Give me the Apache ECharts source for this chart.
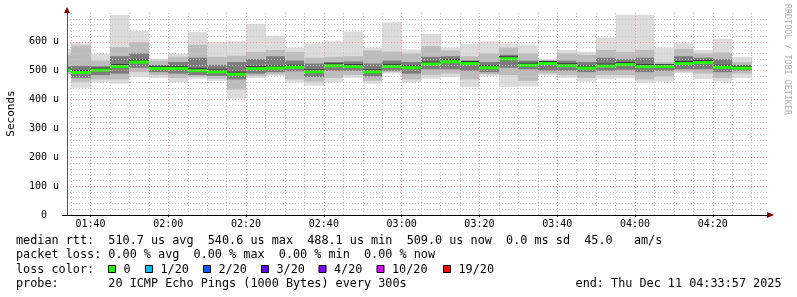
<!DOCTYPE html>
<html><head><meta charset="utf-8">
<script src="https://cdn.jsdelivr.net/npm/echarts@6/dist/echarts.min.js"></script>
<style>html,body{margin:0;padding:0;background:#fff}#c{width:797px;height:297px}</style>
</head><body><div id="c"></div>
<script>
// ---- data (5-minute slots, 20 pings each; values in microseconds) ----
const slots = ['01:30','01:35','01:40','01:45','01:50','01:55','02:00','02:05','02:10','02:15','02:20','02:25',
  '02:30','02:35','02:40','02:45','02:50','02:55','03:00','03:05','03:10','03:15','03:20','03:25',
  '03:30','03:35','03:40','03:45','03:50','03:55','04:00','04:05','04:10','04:15','04:20','04:25'];
const slotLength = 5; // minutes
const pingMin = [485,441,460,455,478,475,460,472,465,403,475,482,459,448,460,475,455,490,460,472,478,443,482,443,445,484,475,462,472,474,457,462,492,471,462,475];
const pingLo2 = [490,462,470,470,495,485,475,478,472,435,482,487,470,462,475,485,465,495,470,485,490,470,488,485,465,490,485,475,485,485,470,480,497,490,475,490];
const pingLo3 = [496,475,485,490,510,495,490,485,482,470,490,495,498,478,500,500,480,500,490,505,505,500,495,510,505,500,500,495,500,503,495,500,505,505,495,500];
const median  = [502,494,502,514,530,508,508,500,496,488,507,509,512,496,517,514,496,515,510,523,531,525,510,541,519,525,517,509,516,521,514,514,525,528,512,509];
const pingHi3 = [515,517,515,550,560,520,530,545,520,530,540,550,535,525,530,532,525,535,530,548,550,535,530,555,535,530,535,530,545,540,545,520,550,545,540,520];
const pingHi2 = [555,587,535,582,598,535,548,590,548,552,565,572,565,545,548,550,570,566,560,585,570,550,560,580,560,537,560,555,572,565,572,530,575,560,563,530];
const pingMax = [576,598,558,693,638,542,558,634,600,602,662,621,580,595,602,636,580,668,574,628,580,593,602,594,590,541,572,566,615,694,694,580,597,572,610,548];

const yTickValues = [0,100,200,300,400,500,600];
const xTickLabels = ['01:40','02:00','02:20','02:40','03:00','03:20','03:40','04:00','04:20'];
const viewStart = '01:33:57', viewEnd = '04:33:57';

const lossLabels = ['0','1/20','2/20','3/20','4/20','10/20','19/20'];
const lossColors = ['#26ff00','#00b8ff','#0059ff','#5e00ff','#7e00ff','#dd00ff','#ff0000'];

const line1 = 'median rtt:  510.7 us avg  540.6 us max  488.1 us min  509.0 us now  0.0 ms sd  45.0   am/s';
const line2 = 'packet loss: 0.00 % avg  0.00 % max  0.00 % min  0.00 % now';
const line3 = 'loss color:';
const line4 = 'probe:       20 ICMP Echo Pings (1000 Bytes) every 300s';
const endText = 'end: Thu Dec 11 04:33:57 2025';

// ---- helpers ----
function toMin(s){ const p = s.split(':').map(Number); return p[0]*60 + p[1] + (p[2]||0)/60; }
function fmt(m){ m = Math.round(m); const h = Math.floor(m/60), mm = m%60; return (h<10?'0':'')+h+':'+(mm<10?'0':'')+mm; }

const xMin = toMin(viewStart), xMax = toMin(viewEnd);
const majorX = xTickLabels.map(toMin);
const minorX = [];
for (let t = Math.ceil(xMin/5)*5; t < xMax; t += 5) if (t % 20 !== 0) minorX.push(t);

const data = slots.map((s,i) => {
  const t = toMin(s);
  return [t, t + slotLength, pingMin[i], pingLo2[i], pingLo3[i], median[i], pingHi3[i], pingHi2[i], pingMax[i]];
});

const MONO = '"DejaVu Sans Mono", monospace';
const bands = [[2,8,'#dcdcdc'],[3,7,'#bcbcbc'],[4,6,'#7c7c7c']];

function renderSmoke(params, api){
  const cs = params.coordSys;
  const t0 = api.value(0), t1 = api.value(1);
  let x0 = Math.round(api.coord([t0,0])[0]), x1 = Math.round(api.coord([t1,0])[0]);
  x0 = Math.max(x0, cs.x); x1 = Math.min(x1, cs.x + cs.width);
  if (x1 <= x0) return null;
  const Y = v => api.coord([t0, v])[1];
  const children = bands.map(b => {
    const yt = Y(api.value(b[1])), yb = Y(api.value(b[0]));
    return {type:'rect', shape:{x:x0, y:yt, width:x1-x0, height:yb-yt}, style:{fill:b[2]}};
  });
  const ym = Y(api.value(5));
  children.push({type:'rect', shape:{x:x0, y:ym-2.5, width:x1-x0, height:1}, style:{fill:'#303030'}});
  children.push({type:'rect', shape:{x:x0, y:ym-1.5, width:x1-x0, height:3}, style:{fill:lossColors[0]}});
  return {type:'group', children};
}

const gridRed = {color:'#e6a0a0', width:1, type:[1,2]};
const gridGray = {color:'#c8c8c8', width:1, type:[1,2]};

const graphics = [
  {type:'text', x:11, y:113.5, rotation:Math.PI/2, style:{text:'Seconds', font:'11px '+MONO, fill:'#000', align:'center', verticalAlign:'middle'}},
  {type:'text', x:787, y:59.5, rotation:-Math.PI/2, style:{text:'RRDTOOL / TOBI OETIKER', font:'8.4px '+MONO, fill:'#b0b0b0', align:'center', verticalAlign:'middle'}},
  {type:'polygon', shape:{points:[[64,13],[70,13],[67,7]]}, style:{fill:'#7f0000'}},
  {type:'polygon', shape:{points:[[767,212],[767,218],[774,215]]}, style:{fill:'#7f0000'}},
  {type:'line', shape:{x1:62, y1:215.5, x2:67, y2:215.5}, style:{stroke:'#000', lineWidth:1}},
  {type:'text', x:16, y:241, style:{text:line1, font:'11.8px '+MONO, fill:'#000', verticalAlign:'middle'}},
  {type:'text', x:16, y:255.3, style:{text:line2, font:'11.8px '+MONO, fill:'#000', verticalAlign:'middle'}},
  {type:'text', x:16, y:269.5, style:{text:line3, font:'11.8px '+MONO, fill:'#000', verticalAlign:'middle'}},
  {type:'text', x:16, y:283.7, style:{text:line4, font:'11.8px '+MONO, fill:'#000', verticalAlign:'middle'}},
  {type:'text', x:781.5, y:283.7, style:{text:endText, font:'11.8px '+MONO, fill:'#000', align:'right', verticalAlign:'middle'}}
];
const sqX = [108, 145, 203, 261, 318.5, 376.5, 443];
lossLabels.forEach((lab,i) => {
  graphics.push({type:'rect', shape:{x:sqX[i]+0.5, y:265.5, width:7, height:7}, style:{fill:lossColors[i], stroke:'#000', lineWidth:1}});
  graphics.push({type:'text', x:sqX[i]+15.5, y:269.5, style:{text:lab, font:'11.8px '+MONO, fill:'#000', verticalAlign:'middle'}});
});

const chart = echarts.init(document.getElementById('c'), null, {renderer:'canvas'});
chart.setOption({
  animation:false,
  backgroundColor:'#ffffff',
  grid:{left:67, top:13, width:700, height:202, containLabel:false},
  xAxis:[
    {type:'value', min:xMin, max:xMax, z:5,
     axisLine:{show:true, lineStyle:{color:'#000', width:1}},
     axisTick:{show:true, length:2, customValues:majorX, lineStyle:{color:'#000'}},
     axisLabel:{customValues:majorX, formatter:fmt, fontFamily:'DejaVu Sans Mono', fontSize:10, color:'#000', margin:4},
     splitLine:{show:true, lineStyle:gridRed}},
    {type:'value', min:xMin, max:xMax, position:'top', z:4,
     axisLine:{show:false}, axisTick:{show:false, customValues:minorX},
     axisLabel:{show:false, customValues:minorX},
     splitLine:{show:true, lineStyle:gridGray}}
  ],
  yAxis:{type:'value', min:0, max:700, interval:100, z:5,
     axisLine:{show:true, lineStyle:{color:'#555', width:1}},
     axisTick:{show:false, customValues:yTickValues},
     axisLabel:{customValues:yTickValues, formatter:v => v === 0 ? '0  ' : v + ' u', fontFamily:'DejaVu Sans Mono', fontSize:10, color:'#000', margin:8},
     splitLine:{show:true, lineStyle:gridRed},
     minorTick:{show:false, splitNumber:5},
     minorSplitLine:{show:true, lineStyle:gridGray}},
  series:[{type:'custom', renderItem:renderSmoke, data:data, xAxisIndex:0, yAxisIndex:0,
     encode:{x:[0,1], y:[2,3,4,5,6,7,8]}, z:2, silent:true}],
  graphic:graphics
});
</script></body></html>
